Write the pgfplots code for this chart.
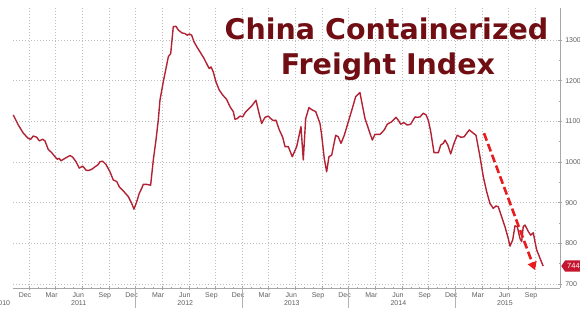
\documentclass[border=0pt]{standalone}
\usepackage{fontspec}
\setmainfont{Liberation Sans}
\newfontfamily\titlefont{DejaVu Sans}
\usepackage{pgfplots}
\pgfplotsset{compat=1.18}
\usetikzlibrary{arrows.meta,shapes.symbols}
\definecolor{linered}{RGB}{178,34,52}
\definecolor{titlered}{RGB}{112,14,20}
\definecolor{arrowred}{RGB}{232,28,28}
\definecolor{tagred}{RGB}{196,22,46}
\definecolor{ticktext}{RGB}{95,95,95}
\begin{document}
\begin{tikzpicture}
\path[use as bounding box] (0,0) rectangle (580pt,308pt);
\begin{axis}[
  at={(13pt,20pt)}, anchor=south west,
  scale only axis, width=547pt, height=280pt,
  xmin=-1.8, xmax=59.8, ymin=690, ymax=1379,
  axis x line*=bottom, axis y line*=right,
  clip=false,
  xtick={0,3,...,57},
  xticklabels={Dec,Mar,Jun,Sep,Dec,Mar,Jun,Sep,Dec,Mar,Jun,Sep,Dec,Mar,Jun,Sep,Dec,Mar,Jun,Sep},
  minor x tick num=2,
  ytick={700,800,...,1300},
  minor y tick num=1,
  grid=major,
  major grid style={gray!50, dash pattern=on 0.8pt off 2.2pt, line width=0.55pt},
  axis line style={gray!70, line width=0.6pt},
  tick style={gray!70, line width=0.5pt},
  tick align=center,
  major tick length=3.5pt, minor tick length=2pt,
  xticklabel style={font=\fontsize{7}{8}\selectfont, text=ticktext, xshift=-4pt, yshift=1pt},
  yticklabel style={font=\fontsize{7}{8}\selectfont, text=ticktext, xshift=0pt},
  /pgf/number format/1000 sep={},
  /pgf/number format/assume math mode=true,
  extra x ticks={12,24,36,48},
  extra x tick labels={},
  extra x tick style={grid=none, tick align=outside, major tick length=20pt, major tick style={gray!60, line width=0.5pt}},
]
\addplot[linered, line width=1.4pt, line join=round] coordinates {
(-1.77,1116) (-1.20,1091) (-0.64,1071) (-0.08,1058) (0.19,1056) (0.48,1064) (0.87,1061) (1.16,1052) (1.54,1056) (1.80,1052)
(2.17,1031) (2.56,1023) (2.93,1013) (3.19,1007) (3.41,1009) (3.60,1003) (4.05,1009) (4.62,1016) (4.92,1012) (5.29,1001)
(5.66,985) (6.05,990) (6.42,980) (6.68,979) (7.06,982) (7.43,988) (7.80,994) (8.00,1001) (8.30,1002) (8.67,994)
(9.12,976) (9.49,956) (9.88,952) (10.17,939) (10.62,929) (11.18,915) (11.57,898) (11.82,884) (12.13,902) (12.42,923)
(12.69,935) (12.87,945) (13.25,945) (13.70,943) (14.00,1005) (14.30,1054) (14.56,1103) (14.75,1152) (15.12,1197) (15.51,1239)
(15.69,1259) (15.96,1267) (16.25,1333) (16.55,1334) (16.81,1325) (17.20,1318) (17.57,1316) (17.83,1312) (18.05,1315) (18.32,1312)
(18.58,1296) (18.89,1284) (19.26,1271) (19.71,1255) (20.08,1239) (20.30,1230) (20.50,1234) (20.75,1222) (21.06,1197) (21.43,1177)
(21.81,1165) (22.26,1154) (22.64,1136) (23.01,1124) (23.20,1105) (23.46,1107) (23.76,1113) (24.07,1111) (24.32,1121) (24.70,1130)
(25.08,1138) (25.56,1152) (25.82,1128) (26.20,1095) (26.58,1110) (26.95,1113) (27.22,1107) (27.51,1102) (27.81,1103) (28.19,1079)
(28.57,1061) (28.83,1038) (29.20,1038) (29.65,1013) (30.15,1038) (30.63,1087) (30.89,1005) (31.16,1107) (31.53,1134) (31.90,1128)
(32.29,1124) (32.77,1095) (32.96,1066) (33.25,1009) (33.52,976) (33.78,1013) (34.09,1017) (34.54,1066) (34.83,1062) (35.14,1046)
(35.51,1066) (35.96,1099) (36.41,1132) (36.79,1161) (37.27,1171) (37.47,1148) (37.84,1107) (38.21,1083) (38.66,1054) (38.96,1068)
(39.53,1068) (40.01,1079) (40.35,1093) (40.84,1099) (41.33,1110) (41.59,1103) (41.86,1093) (42.23,1097) (42.60,1091) (42.98,1093)
(43.47,1111) (43.73,1110) (44.03,1111) (44.40,1120) (44.71,1116) (44.97,1103) (45.24,1075) (45.61,1023) (46.10,1023) (46.37,1042)
(46.66,1046) (46.85,1054) (47.16,1042) (47.49,1020) (47.86,1046) (48.23,1066) (48.62,1061) (49.00,1062) (49.30,1071) (49.59,1079)
(49.97,1072) (50.34,1066) (50.79,1013) (51.16,964) (51.54,927) (51.91,898) (52.29,886) (52.59,892) (52.85,890) (53.23,865)
(53.60,841) (53.97,812) (54.17,793) (54.47,808) (54.73,843) (54.99,841) (55.29,812) (55.48,804) (55.66,841) (55.86,845)
(56.23,829) (56.50,820) (56.79,826) (56.98,804) (57.17,784) (57.55,763) (57.90,744)
};
\addplot[arrowred, line width=2.6pt, dash pattern=on 8pt off 3.5pt, -{Triangle[length=8pt,width=9pt]}] coordinates {(51.24,1071) (56.98,734)};
\node[font=\fontsize{7}{8}\selectfont, text=ticktext] at (axis cs:-3.0,690) [yshift=-15pt] {2010};
\node[font=\fontsize{7}{8}\selectfont, text=ticktext] at (axis cs:5.6,690) [yshift=-15pt] {2011};
\node[font=\fontsize{7}{8}\selectfont, text=ticktext] at (axis cs:17.6,690) [yshift=-15pt] {2012};
\node[font=\fontsize{7}{8}\selectfont, text=ticktext] at (axis cs:29.6,690) [yshift=-15pt] {2013};
\node[font=\fontsize{7}{8}\selectfont, text=ticktext] at (axis cs:41.6,690) [yshift=-15pt] {2014};
\node[font=\fontsize{7}{8}\selectfont, text=ticktext] at (axis cs:53.6,690) [yshift=-15pt] {2015};
\node[signal, signal to=west, signal pointer angle=110, fill=tagred, text=white, font=\fontsize{7.5}{8}\selectfont, inner xsep=2pt, inner ysep=3pt, anchor=west] at (axis cs:59.8,744) [xshift=1pt] {744.};
\end{axis}
\node[text=titlered, anchor=base, font=\titlefont\bfseries\fontsize{28.5}{30}\selectfont] at (386.5pt,268.7pt) {China Containerized};
\node[text=titlered, anchor=base, font=\titlefont\bfseries\fontsize{28.5}{30}\selectfont] at (388pt,233pt) {Freight Index};
\end{tikzpicture}
\end{document}
